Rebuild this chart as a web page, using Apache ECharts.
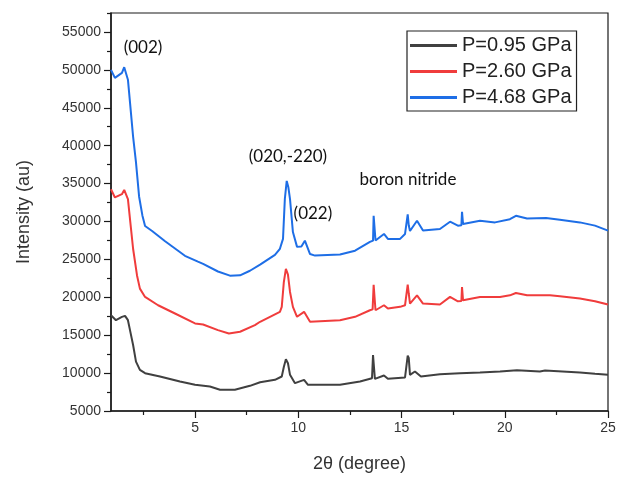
<!DOCTYPE html>
<html>
<head>
<meta charset="utf-8">
<script src="https://cdn.jsdelivr.net/npm/echarts@6/dist/echarts.min.js"></script>
<style>
html,body{margin:0;padding:0;background:#fff;}
#chart{width:621px;height:478px;}
</style>
</head>
<body>
<div id="chart"></div>
<script>
// ---- data (2θ in degrees, intensity in a.u.) ----
const seriesNames = ['P=0.95 GPa', 'P=2.60 GPa', 'P=4.68 GPa'];
const p095 = [[0.93,17630],[1.17,16980],[1.46,17420],[1.61,17550],[1.75,16980],[1.85,15670],[2.0,13700],[2.14,11520],[2.33,10420],[2.58,9990],[3.3,9550],[4.27,8900],[5.0,8450],[5.72,8240],[6.21,7800],[6.93,7800],[7.66,8320],[8.15,8800],[8.87,9110],[9.2,9550],[9.3,10800],[9.4,11820],[9.5,11300],[9.6,9770],[9.84,8670],[10.28,9110],[10.47,8450],[12.02,8450],[12.99,8900],[13.57,9330],[13.62,12390],[13.67,12300],[13.71,9240],[14.15,9680],[14.34,9240],[15.17,9420],[15.26,9500],[15.3,12310],[15.35,12000],[15.41,9770],[15.65,10210],[15.94,9550],[16.86,9850],[17.83,9990],[18.8,10080],[19.77,10210],[20.59,10380],[21.7,10210],[21.95,10330],[23.64,10080],[24.37,9900],[25.0,9770]];
const p260 = [[0.93,34250],[1.12,33170],[1.46,33600],[1.57,34170],[1.75,32950],[1.85,30300],[2.0,26400],[2.19,22880],[2.33,21140],[2.58,20050],[3.21,18950],[4.03,17860],[5.0,16550],[5.39,16410],[6.11,15670],[6.64,15230],[7.18,15450],[7.9,16320],[8.15,16770],[9.11,18080],[9.2,18740],[9.3,22000],[9.4,23760],[9.5,23000],[9.6,20700],[9.74,18740],[9.94,17430],[10.28,18080],[10.57,16770],[12.02,16980],[12.75,17420],[13.47,18290],[13.6,18400],[13.65,21660],[13.7,21500],[13.74,18290],[14.15,18950],[14.34,18510],[14.93,18740],[15.17,18950],[15.26,19000],[15.3,21660],[15.35,20500],[15.41,19170],[15.75,20260],[16.04,19170],[16.86,19040],[17.35,20050],[17.73,19470],[17.9,19500],[17.93,21360],[17.98,19600],[18.8,20050],[19.77,20050],[20.25,20260],[20.54,20570],[21.08,20260],[22.19,20260],[22.67,20130],[23.64,19830],[24.37,19470],[25.0,19040]];
const p468 = [[0.93,50000],[1.12,48950],[1.46,49600],[1.57,50350],[1.75,48700],[1.85,45700],[2.0,41200],[2.14,37800],[2.29,33300],[2.45,30800],[2.58,29400],[2.92,28750],[3.55,27400],[4.51,25470],[5.14,24700],[5.39,24400],[6.11,23400],[6.69,22850],[7.18,22900],[7.66,23500],[8.15,24300],[8.87,25600],[9.11,26400],[9.26,27700],[9.35,33000],[9.44,35350],[9.52,34500],[9.6,32950],[9.74,28600],[9.94,26650],[10.15,26700],[10.32,27470],[10.57,25700],[10.81,25500],[12.02,25640],[12.75,26150],[13.47,27300],[13.62,27470],[13.65,30750],[13.7,30500],[13.74,27500],[14.15,28350],[14.34,27700],[14.93,27700],[15.17,28350],[15.25,28600],[15.3,30950],[15.35,29500],[15.41,28750],[15.75,30100],[16.04,28800],[16.86,29000],[17.35,29970],[17.73,29450],[17.9,29500],[17.93,31280],[17.98,29660],[18.8,30100],[19.53,29880],[20.25,30300],[20.54,30750],[21.08,30400],[22.0,30450],[22.67,30230],[23.64,29880],[24.37,29450],[25.0,28790]];

const xTicks = [5, 10, 15, 20, 25];
const xMinorTicks = [2.5, 7.5, 12.5, 17.5, 22.5];
const yTicks = [5000,10000,15000,20000,25000,30000,35000,40000,45000,50000,55000];
const yMinorTicks = [7500,12500,17500,22500,27500,32500,37500,42500,47500,52500,57500];

const annotations = [
  {text:'(002)', x:2.48, y:52900},
  {text:'(020,-220)', x:9.5, y:38600},
  {text:'(022)', x:10.71, y:31100},
  {text:'boron nitride', x:15.31, y:35570}
];

const colors = ['#404040', '#f03c3c', '#1e6ee6'];
const X_MIN = 0.93, X_MAX = 25, Y_MIN = 5000, Y_MAX = 57500;

const chart = echarts.init(document.getElementById('chart'), null, {renderer:'canvas'});
const axisColor = '#1a1a1a';
const labelStyle = {color:'#333', fontFamily:'Liberation Sans, Arial, sans-serif', fontSize:14, formatter:v=>String(v)};

const option = {
  animation:false,
  backgroundColor:'#fff',
  grid:{left:111, right:13, top:13, bottom:65, show:true, borderColor:axisColor, borderWidth:1.2, backgroundColor:'transparent'},
  legend:{
    left:407, top:31, orient:'vertical',
    borderColor:'#222', borderWidth:1.2, padding:[4,5,3,3], itemGap:5,
    itemWidth:47, itemHeight:3, icon:'rect',
    textStyle:{fontFamily:'Liberation Sans, Arial, sans-serif', fontSize:20, lineHeight:21, color:'#222'},
    data:seriesNames
  },
  xAxis:[{
    type:'value', min:X_MIN, max:X_MAX,
    name:'2θ (degree)', nameLocation:'middle', nameGap:44,
    nameTextStyle:{fontFamily:'Liberation Sans, Arial, sans-serif', fontSize:18, color:'#333'},
    axisLine:{show:true, onZero:false, lineStyle:{color:axisColor, width:1.5}},
    axisTick:{show:true, length:7, customValues:xTicks, lineStyle:{color:axisColor, width:1.2}},
    axisLabel:Object.assign({customValues:xTicks, margin:10}, labelStyle),
    splitLine:{show:false}
  },{
    type:'value', min:X_MIN, max:X_MAX, position:'bottom',
    axisLine:{show:false}, axisLabel:{show:false}, splitLine:{show:false},
    axisTick:{show:true, length:4, customValues:xMinorTicks, lineStyle:{color:axisColor, width:1.2}}
  }],
  yAxis:[{
    type:'value', min:Y_MIN, max:Y_MAX,
    name:'Intensity (au)', nameLocation:'middle', nameGap:78,
    nameTextStyle:{fontFamily:'Liberation Sans, Arial, sans-serif', fontSize:18, color:'#333'},
    axisLine:{show:true, onZero:false, lineStyle:{color:axisColor, width:1.5}},
    axisTick:{show:true, length:7, customValues:yTicks, lineStyle:{color:axisColor, width:1.2}},
    axisLabel:Object.assign({customValues:yTicks, margin:10}, labelStyle),
    splitLine:{show:false}
  },{
    type:'value', min:Y_MIN, max:Y_MAX, position:'left',
    axisLine:{show:false}, axisLabel:{show:false}, splitLine:{show:false},
    axisTick:{show:true, length:4, customValues:yMinorTicks, lineStyle:{color:axisColor, width:1.2}}
  }],
  series:[p095, p260, p468].map((d,i)=>({
    name:seriesNames[i], type:'line', data:d, symbol:'none',
    xAxisIndex:0, yAxisIndex:0,
    lineStyle:{color:colors[i], width:2}, itemStyle:{color:colors[i]}
  }))
};
chart.setOption(option);

const graphics = annotations.map(a=>{
  const p = chart.convertToPixel({xAxisIndex:0, yAxisIndex:0}, [a.x, a.y]);
  return {type:'text', x:p[0], y:p[1], style:{text:a.text, fill:'#111', font:'17px Lato, "Open Sans", sans-serif', align:'center', verticalAlign:'middle'}};
});
chart.setOption({graphic:graphics});
</script>
</body>
</html>
